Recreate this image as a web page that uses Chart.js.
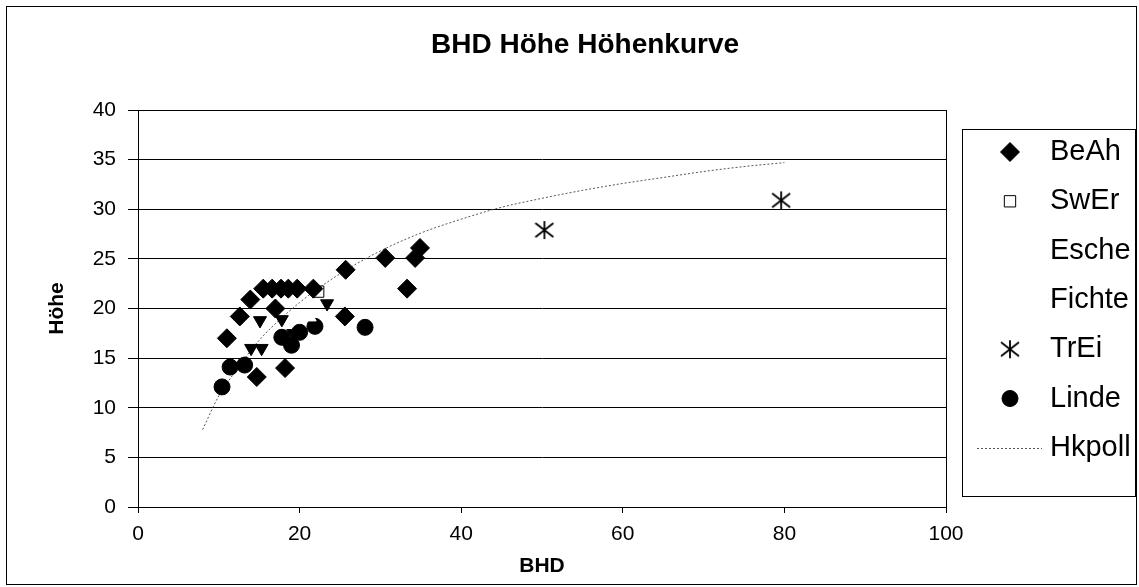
<!DOCTYPE html>
<html>
<head>
<meta charset="utf-8">
<script src="https://cdn.jsdelivr.net/npm/chart.js@4.4.0/dist/chart.umd.min.js"></script>
<style>
  html, body { margin: 0; padding: 0; background: #fff; }
  canvas { display: block; }
</style>
</head>
<body>
<canvas id="chart" width="1139" height="587"></canvas>
<script>
const chartTitle = 'BHD Höhe Höhenkurve';
const xTitle = 'BHD';
const yTitle = 'Höhe';

const xTicks = [0, 20, 40, 60, 80, 100];
const yTicks = [0, 5, 10, 15, 20, 25, 30, 35, 40];

const beahX = [11, 12.6, 13.9, 15.5, 16.6, 17.7, 18.6, 19.7, 21.7, 17, 14.7, 18.2, 25.6, 25.7, 30.6, 33.3, 34.3, 34.9];
const beahY = [17, 19.2, 20.9, 22, 22, 22, 22, 22, 22, 20, 13.1, 14, 19.2, 23.9, 25.1, 22, 25.1, 26.1];

const swerX = [22.3];
const swerY = [21.7];

const escheX = [15.1, 17.8, 23.4, 19.2, 14, 15.3];
const escheY = [18.8, 18.9, 20.5, 17.5, 16, 16];

const fichteX = [19.8, 21.3, 14.4];
const fichteY = [19.1, 19.1, 17.4];

const treiX = [50.3, 79.6];
const treiY = [27.9, 30.9];

const lindeX = [10.4, 11.4, 13.2, 17.8, 19.0, 20.0, 21.9, 28.1];
const lindeY = [12.1, 14.1, 14.3, 17.1, 16.3, 17.6, 18.2, 18.1];

const hkX = [8, 10, 12, 15, 20, 25, 30, 35, 40, 45, 50, 55, 60, 65, 70, 75, 80];
const hkY = [7.8, 11.2, 13.6, 16.8, 20.6, 23.5, 25.8, 27.6, 29.0, 30.2, 31.1, 31.9, 32.6, 33.2, 33.8, 34.3, 34.7];

const font = "'Liberation Sans', Arial, sans-serif";

function pairs(xs, ys) {
  return xs.map((x, i) => ({ x, y: ys[i] }));
}

// six-armed asterisk like the spreadsheet marker
function makeAsterisk() {
  const c = document.createElement('canvas');
  c.width = 20; c.height = 20;
  const g = c.getContext('2d');
  g.strokeStyle = '#000';
  g.lineWidth = 1.8;
  g.beginPath();
  g.moveTo(10, 1); g.lineTo(10, 19);
  g.moveTo(1, 3); g.lineTo(19, 17);
  g.moveTo(19, 3); g.lineTo(1, 17);
  g.stroke();
  return c;
}

const decor = {
  id: 'decor',
  afterDraw(chart) {
    const ctx = chart.ctx;
    const a = chart.chartArea;
    ctx.save();
    ctx.strokeStyle = '#000';
    ctx.lineWidth = 1;
    ctx.strokeRect(Math.round(a.left) + 0.5, Math.round(a.top) + 0.5, Math.round(a.right - a.left), Math.round(a.bottom - a.top));
    ctx.strokeRect(6.5, 6.5, 1130, 578);

    ctx.fillStyle = '#000';
    ctx.font = 'bold 28px ' + font;
    ctx.textAlign = 'center';
    ctx.textBaseline = 'middle';
    ctx.fillText(chartTitle, 585, 45);

    // legend box
    ctx.strokeRect(962.5, 129.5, 173, 367);
    ctx.textAlign = 'left';
    chart.data.datasets.forEach((ds, i) => {
      const y = 152 + i * 49.3;
      if (ds.showLine) {
        ctx.save();
        ctx.strokeStyle = ds.borderColor;
        ctx.lineWidth = 1;
        ctx.setLineDash(ds.borderDash);
        ctx.beginPath();
        ctx.moveTo(977, Math.round(y) + 0.5);
        ctx.lineTo(1042, Math.round(y) + 0.5);
        ctx.stroke();
        ctx.restore();
      } else if (!ds.legendBlank) {
        ctx.fillStyle = ds.pointBackgroundColor;
        ctx.strokeStyle = ds.pointBorderColor;
        ctx.lineWidth = ds.pointBorderWidth;
        Chart.helpers.drawPoint(ctx, {
          pointStyle: ds.pointStyle,
          rotation: ds.pointRotation || 0,
          radius: ds.pointRadius,
          borderWidth: ds.pointBorderWidth
        }, 1010, y);
      }
      ctx.fillStyle = '#000';
      ctx.font = '29px ' + font;
      ctx.fillText(ds.label, 1050, y);
    });
    ctx.restore();
  }
};

new Chart(document.getElementById('chart'), {
  type: 'scatter',
  data: {
    datasets: [
      { label: 'BeAh', data: pairs(beahX, beahY), pointStyle: 'rectRot', pointRadius: 9.5,
        pointBackgroundColor: '#000', pointBorderColor: '#000', pointBorderWidth: 1 },
      { label: 'SwEr', data: pairs(swerX, swerY), pointStyle: 'rect', pointRadius: 8,
        pointBackgroundColor: '#fff', pointBorderColor: '#000', pointBorderWidth: 1 },
      { label: 'Esche', data: pairs(escheX, escheY), pointStyle: 'triangle', pointRotation: 180, pointRadius: 7.5,
        pointBackgroundColor: '#000', pointBorderColor: '#000', pointBorderWidth: 1, legendBlank: true },
      { label: 'Fichte', data: pairs(fichteX, fichteY), pointStyle: 'triangle', pointRadius: 7,
        pointBackgroundColor: '#fff', pointBorderColor: '#fff', pointBorderWidth: 1, legendBlank: true },
      { label: 'TrEi', data: pairs(treiX, treiY), pointStyle: makeAsterisk(), pointRadius: 9,
        pointBackgroundColor: '#000', pointBorderColor: '#000', pointBorderWidth: 1 },
      { label: 'Linde', data: pairs(lindeX, lindeY), pointStyle: 'circle', pointRadius: 8,
        pointBackgroundColor: '#000', pointBorderColor: '#000', pointBorderWidth: 1 },
      { label: 'Hkpoll', data: pairs(hkX, hkY), showLine: true, pointRadius: 0,
        borderColor: '#555', borderWidth: 1, borderDash: [2, 2], cubicInterpolationMode: 'monotone' }
    ]
  },
  options: {
    responsive: false,
    animation: false,
    layout: { padding: { top: 110, right: 193, left: 0, bottom: 0 } },
    plugins: { legend: { display: false }, tooltip: { enabled: false }, title: { display: false } },
    scales: {
      x: {
        type: 'linear',
        min: xTicks[0], max: xTicks[xTicks.length - 1],
        afterFit(scale) { scale.height = 80; },
        ticks: { stepSize: xTicks[1] - xTicks[0], color: '#000', padding: 9, font: { family: font, size: 21 } },
        grid: { drawOnChartArea: false, tickLength: 6, color: '#000', tickColor: '#000' },
        border: { color: '#000' },
        title: { display: true, text: xTitle, color: '#000', padding: { top: 0, bottom: 8 },
          font: { family: font, size: 21, weight: 'bold' } }
      },
      y: {
        type: 'linear',
        min: yTicks[0], max: yTicks[yTicks.length - 1],
        afterFit(scale) { scale.width = 138; },
        ticks: { stepSize: yTicks[1] - yTicks[0], color: '#000', padding: 12, font: { family: font, size: 21 } },
        grid: { color: '#000', tickLength: 10, tickColor: '#000' },
        border: { color: '#000' },
        title: { display: true, text: yTitle, color: '#000', padding: { top: 45, bottom: 0 },
          font: { family: font, size: 21, weight: 'bold' } }
      }
    }
  },
  plugins: [decor]
});
</script>
</body>
</html>
